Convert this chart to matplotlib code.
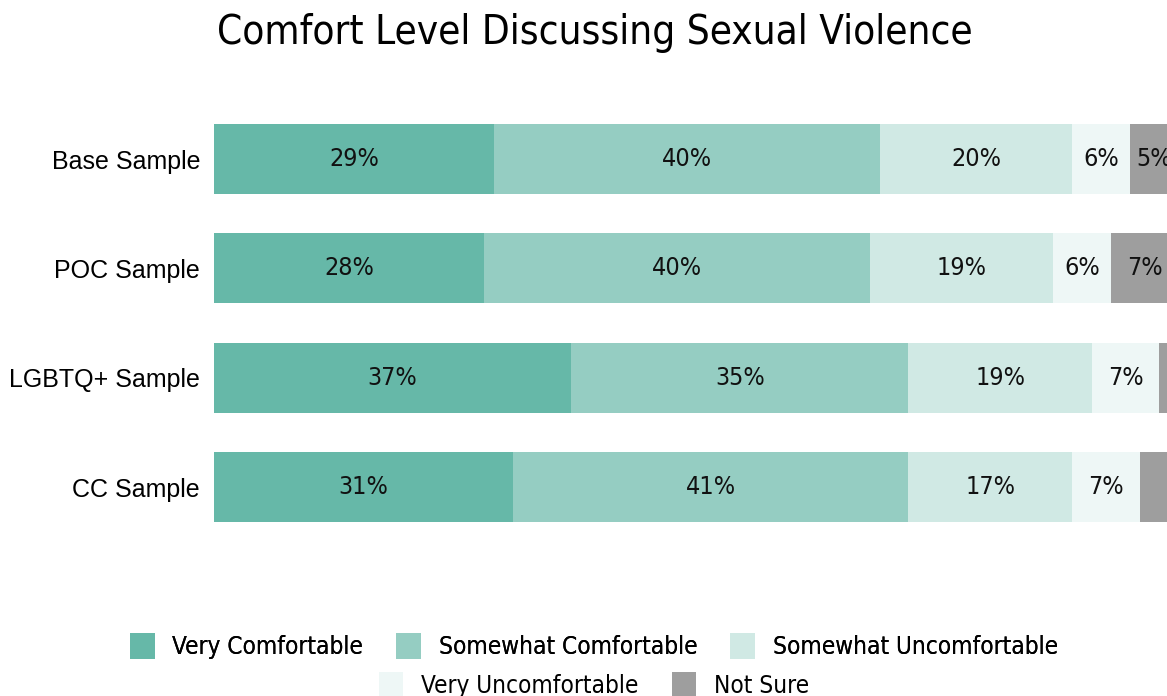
import matplotlib.pyplot as plt
from matplotlib.patches import Patch

samples = ["Base Sample", "POC Sample", "LGBTQ+ Sample", "CC Sample"]
categories = ["Very Comfortable", "Somewhat Comfortable", "Somewhat Uncomfortable",
              "Very Uncomfortable", "Not Sure"]
very_comfortable = [29, 28, 37, 31]
somewhat_comfortable = [40, 40, 35, 41]
somewhat_uncomfortable = [20, 19, 19, 17]
very_uncomfortable = [6, 6, 7, 7]
not_sure = [5, 7, 2, 4]

colors = ["#66b8a8", "#95cdc2", "#d0e9e4", "#eef7f6", "#9e9e9e"]
series = [very_comfortable, somewhat_comfortable, somewhat_uncomfortable,
          very_uncomfortable, not_sure]

cond = {"family": "DejaVu Sans", "stretch": "condensed"}

fig = plt.figure(figsize=(11.67, 6.96), dpi=100)
# bar centres at ~159 and ~487 px from the top
ax = fig.add_axes([214 / 1167, 1 - 552.6 / 696, 1 - 214 / 1167, (552.6 - 93.4) / 696])

ypos = list(range(len(samples)))
left = [0] * len(samples)
for vals, col in zip(series, colors):
    ax.barh(ypos, vals, left=left, height=0.64, color=col, edgecolor="none")
    for y, v, l in zip(ypos, vals, left):
        if v >= 5:
            ax.text(l + v / 2, y, f"{v}%", ha="center", va="center",
                    fontsize=18, color="#111111", **cond)
    left = [a + b for a, b in zip(left, vals)]

ax.set_xlim(0, 98.8)
ax.set_ylim(3.6, -0.6)
ax.set_yticks(ypos)
ax.set_yticklabels(samples, fontsize=18, family="Liberation Sans")
ax.tick_params(axis="y", length=0, pad=10)
ax.set_xticks([])
for s in ax.spines.values():
    s.set_visible(False)

fig.text(0.51, 1 - 33 / 696, "Comfort Level Discussing Sexual Violence", ha="center",
         va="center", fontsize=29, **cond)

handles = [Patch(facecolor=c, edgecolor="none") for c in colors]
leg_font = dict(cond, size=17.5)
leg_kw = dict(loc="center", frameon=False, prop=leg_font, handlelength=1.0,
              handleheight=1.3, columnspacing=1.36, handletextpad=0.74)
leg1 = fig.legend(handles[:3], categories[:3], ncol=3,
                  bbox_to_anchor=(0.509, 1 - 646 / 696), **leg_kw)
fig.add_artist(leg1)
fig.legend(handles[3:], categories[3:], ncol=2,
           bbox_to_anchor=(0.509, 1 - 685 / 696), **leg_kw)

plt.savefig("out.png", dpi=100)
plt.close()
